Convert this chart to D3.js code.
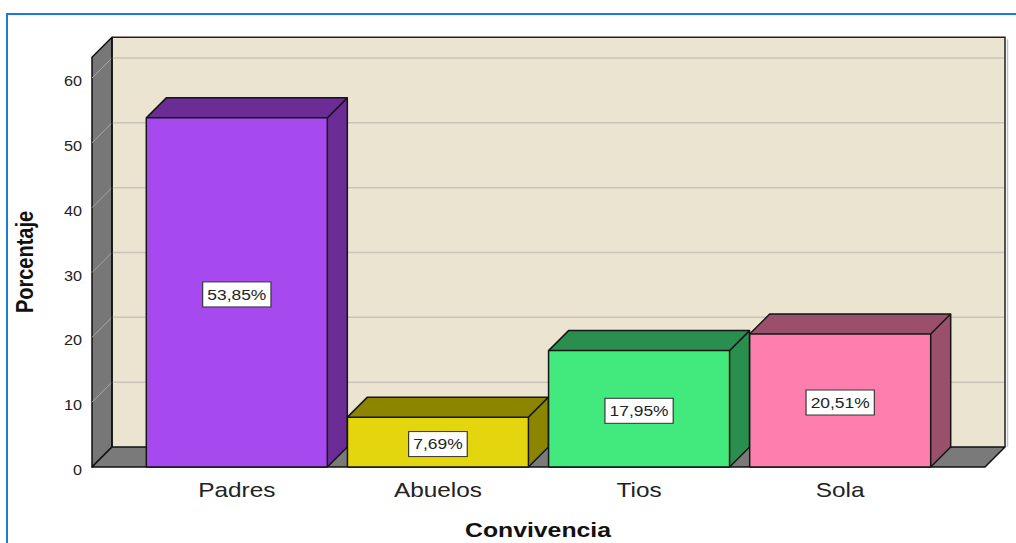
<!DOCTYPE html>
<html>
<head>
<meta charset="utf-8">
<script src="https://cdn.jsdelivr.net/npm/d3@7"></script>
<style>
  body { margin: 0; background: #fff; }
  text { font-family: "Liberation Sans", Arial, sans-serif; }
</style>
</head>
<body>
<div id="chart"></div>
<script>
// datos
const categories = ["Padres", "Abuelos", "Tios", "Sola"];
const values = [53.85, 7.69, 17.95, 20.51];
const yTicks = [0, 10, 20, 30, 40, 50, 60];
const frontColors = ["#a64af0", "#e3d60f", "#42e97d", "#fe7fae"];
const sideColors = ["#6b2c95", "#8c8500", "#2a8e4f", "#9a4f6b"];

const W = 1016, H = 543;
const dx = 20, dy = -20;       // profundidad 3D
const sx = 1.16;               // el texto sale algo estirado en horizontal

const svg = d3.select("#chart").append("svg")
  .attr("width", W).attr("height", H);

// marco azul
svg.append("rect")
  .attr("x", 7).attr("y", 14).attr("width", W + 20).attr("height", H + 20)
  .attr("fill", "none").attr("stroke", "#1b7bd6").attr("stroke-width", 2);

const x = d3.scaleBand().domain(categories).range([92, 985])
  .paddingInner(0.1).paddingOuter(0.27);
const y = d3.scaleLinear().domain([0, 60]).range([467, 78]);
const yTop = y(63.2);
const x0 = x.range()[0], x1 = x.range()[1];

const fmt = v => d3.format(".2f")(v).replace(".", ",") + "%";

// pared del fondo
svg.append("polygon")
  .attr("points", [[x0 + dx, yTop + dy], [x1 + dx, yTop + dy], [x1 + dx, y(0) + dy], [x0 + dx, y(0) + dy]].join(" "))
  .attr("fill", "#ebe4d0");

// pared izquierda
svg.append("polygon")
  .attr("points", [[x0, yTop], [x0 + dx, yTop + dy], [x0 + dx, y(0) + dy], [x0, y(0)]].join(" "))
  .attr("fill", "#777").attr("stroke", "#111").attr("stroke-width", 1.5)
  .attr("stroke-linejoin", "round");

// lineas de cuadricula
const grid = svg.append("g");
grid.selectAll("line.back").data(yTicks.filter(d => d > 0)).join("line")
  .attr("x1", x0 + dx).attr("x2", x1 + dx)
  .attr("y1", d => y(d) + dy).attr("y2", d => y(d) + dy)
  .attr("stroke", "#c8c4b8").attr("stroke-width", 1.5);
grid.selectAll("line.side").data(yTicks.filter(d => d > 0)).join("line")
  .attr("x1", x0).attr("x2", x0 + dx)
  .attr("y1", d => y(d)).attr("y2", d => y(d) + dy)
  .attr("stroke", "#a8a8a8").attr("stroke-width", 1);

// borde superior y derecho del fondo
svg.append("polyline")
  .attr("points", [[x0 + dx, yTop + dy], [x1 + dx, yTop + dy], [x1 + dx, y(0) + dy]].join(" "))
  .attr("fill", "none").attr("stroke", "#222").attr("stroke-width", 1.5);
svg.append("line")
  .attr("x1", x1 + dx + 2.5).attr("x2", x1 + dx + 2.5)
  .attr("y1", yTop + dy + 2).attr("y2", y(0) + dy)
  .attr("stroke", "#c4c4c4").attr("stroke-width", 1.5);
svg.append("line")
  .attr("x1", x0 + dx).attr("x2", x0 + dx)
  .attr("y1", yTop + dy).attr("y2", y(0) + dy)
  .attr("stroke", "#111").attr("stroke-width", 1.5);

// suelo
svg.append("polygon")
  .attr("points", [[x0, y(0)], [x0 + dx, y(0) + dy], [x1 + dx, y(0) + dy], [x1, y(0)]].join(" "))
  .attr("fill", "#7a7a7a").attr("stroke", "#111").attr("stroke-width", 1.5)
  .attr("stroke-linejoin", "round");

// etiquetas del eje Y
svg.append("g").selectAll("text").data(yTicks).join("text")
  .attr("transform", d => `translate(82,${y(d) + 8}) scale(${sx},1)`)
  .attr("text-anchor", "end").attr("font-size", 14).attr("fill", "#222")
  .text(d => d);

// barras 3D
const bars = svg.append("g").selectAll("g").data(categories).join("g");
bars.each(function (c, i) {
  const g = d3.select(this);
  const l = x(c), r = x(c) + x.bandwidth(), t = y(values[i]), b = y(0);
  g.append("polygon") // lado
    .attr("points", [[r, t], [r + dx, t + dy], [r + dx, b + dy], [r, b]].join(" "))
    .attr("fill", sideColors[i]);
  g.append("polygon") // tapa
    .attr("points", [[l, t], [l + dx, t + dy], [r + dx, t + dy], [r, t]].join(" "))
    .attr("fill", sideColors[i]);
  g.append("rect") // frente
    .attr("x", l).attr("y", t).attr("width", r - l).attr("height", b - t)
    .attr("fill", frontColors[i]);
  g.append("path")
    .attr("d", `M${l},${b}V${t}L${l + dx},${t + dy}H${r + dx}V${b + dy}L${r},${b}H${l}M${l},${t}H${r}L${r + dx},${t + dy}M${r},${t}V${b}`)
    .attr("fill", "none").attr("stroke", "#151515").attr("stroke-width", 1.5)
    .attr("stroke-linejoin", "round");
});

// etiquetas de valor
bars.each(function (c, i) {
  const cx = x(c) + x.bandwidth() / 2;
  const cy = (y(values[i]) + y(0)) / 2 + 2;
  const lab = d3.select(this).append("g")
    .attr("transform", `translate(${cx},${cy}) scale(${sx},1)`);
  const box = lab.append("rect");
  const txt = lab.append("text")
    .attr("text-anchor", "middle").attr("dy", "0.36em")
    .attr("font-size", 15).attr("fill", "#222")
    .text(fmt(values[i]));
  const bb = txt.node().getBBox();
  box.attr("x", bb.x - 4).attr("y", -12.5)
    .attr("width", bb.width + 8).attr("height", 25)
    .attr("fill", "#fff").attr("stroke", "#333").attr("stroke-width", 1);
});

// etiquetas de categoria
svg.append("g").selectAll("text").data(categories).join("text")
  .attr("transform", c => `translate(${x(c) + x.bandwidth() / 2},497) scale(${sx},1)`)
  .attr("text-anchor", "middle").attr("font-size", 21).attr("fill", "#222")
  .text(c => c);

// titulos de ejes
svg.append("text")
  .attr("transform", `translate(538,537) scale(1.24,1)`)
  .attr("text-anchor", "middle").attr("font-size", 20).attr("font-weight", "bold")
  .attr("fill", "#111").text("Convivencia");
svg.append("text")
  .attr("transform", `translate(33,262) scale(${sx},1) rotate(-90)`)
  .attr("text-anchor", "middle").attr("font-size", 20).attr("font-weight", "bold")
  .attr("fill", "#111").text("Porcentaje");
</script>
</body>
</html>
